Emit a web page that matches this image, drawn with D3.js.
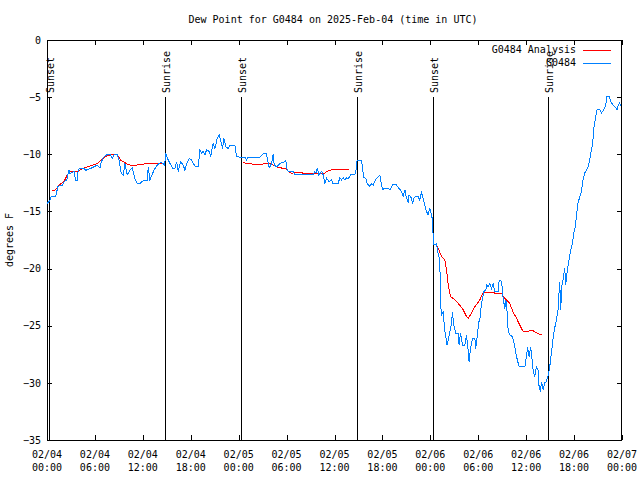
<!DOCTYPE html>
<html><head><meta charset="utf-8">
<script src="https://cdn.jsdelivr.net/npm/d3@7"></script>
<style>
body{margin:0;background:#fff;}
svg{display:block;}
text{font-family:"DejaVu Sans Mono",monospace;font-size:10px;fill:#000;}
</style></head>
<body><svg id="c" width="640" height="480"></svg>
<script>
// ---- data (hours since 2025-02-04 00:00 UTC) ----
const title = "Dew Point for G0484 on 2025-Feb-04 (time in UTC)";
const yLabel = "degrees F";
const seriesNames = ["G0484 Analysis", "G0484"];
const yTicks = [0, -5, -10, -15, -20, -25, -30, -35];
const obsHours = [0.0,0.3,0.54,1.09,1.38,1.92,2.13,2.47,2.75,2.88,3.38,3.59,3.79,3.92,4.54,4.84,5.26,5.88,6.3,6.63,6.72,7.05,7.55,7.97,8.17,8.39,8.8,9.01,9.3,9.55,9.76,10.05,10.39,10.68,10.98,11.3,11.64,12.14,12.55,12.68,12.89,13.39,13.8,14.23,14.56,14.73,14.86,14.98,15.39,15.73,16.02,16.23,16.43,16.73,17.06,17.27,17.48,17.81,18.11,18.31,18.65,18.94,19.15,19.36,19.56,19.77,19.99,20.31,20.49,20.81,21.03,21.31,21.56,21.74,21.99,22.15,22.4,22.69,22.9,23.53,23.74,24.15,24.78,24.99,25.19,26.66,27.07,27.5,27.57,27.82,28.12,28.32,28.45,28.75,29.16,29.79,29.91,30.0,30.2,30.83,31.04,33.33,33.54,33.67,33.83,34.04,34.38,34.58,34.79,35.0,35.33,35.63,35.76,36.46,36.67,36.88,37.08,37.3,37.51,37.71,38.01,38.55,38.67,38.84,39.39,39.51,39.67,39.92,40.09,40.34,40.64,40.84,41.18,41.46,41.68,41.8,42.02,42.3,42.72,42.93,43.34,43.68,43.97,44.39,44.59,44.81,45.02,45.22,45.34,45.64,45.77,45.93,46.18,46.47,46.68,46.89,47.1,47.31,47.52,47.72,47.93,48.15,48.27,48.35,48.47,48.77,48.97,49.19,49.27,49.4,49.6,49.81,50.1,50.35,50.65,50.77,50.94,51.19,51.48,51.6,51.78,52.03,52.32,52.53,52.73,52.85,53.03,53.28,53.57,53.69,53.86,54.07,54.2,54.41,54.7,54.95,55.04,55.24,55.45,55.66,55.86,56.07,56.49,56.62,56.83,56.99,57.12,57.33,57.46,57.62,57.75,57.96,58.29,58.58,58.79,59.12,59.83,60.04,60.17,60.37,60.55,60.71,60.87,61.08,61.29,61.49,61.62,61.79,61.92,62.12,62.33,62.54,62.67,62.79,62.95,63.16,63.36,63.57,63.79,63.99,64.11,64.2,64.33,64.45,64.62,64.83,64.95,65.11,65.36,65.54,65.79,65.95,66.16,66.29,66.49,66.71,66.92,67.12,67.33,67.55,67.75,67.96,68.09,68.25,68.38,68.5,68.71,68.88,69.22,69.43,69.71,69.96,70.13,70.38,70.59,70.88,71.09,71.38,71.55,71.71,71.84];
const obsValues = [-14.3,-14.1,-13.7,-13.65,-12.8,-12.7,-12.4,-12.25,-11.4,-11.7,-11.5,-12.25,-12.25,-11.3,-11.2,-11.4,-11.3,-11.1,-10.95,-11.2,-10.8,-10.3,-10.0,-10.05,-10.35,-10.05,-10.05,-10.5,-11.65,-11.8,-10.8,-11.8,-11.4,-11.2,-12.1,-12.55,-12.55,-12.25,-12.25,-11.1,-12.25,-11.4,-10.95,-10.7,-10.8,-10.95,-9.9,-10.2,-10.8,-11.2,-11.2,-10.65,-11.5,-10.65,-10.95,-11.4,-10.8,-10.35,-10.5,-10.8,-11.1,-11.1,-9.6,-9.9,-9.75,-10.05,-9.6,-9.75,-10.2,-9.05,-9.5,-8.6,-8.3,-8.75,-9.5,-8.6,-9.35,-9.5,-9.2,-9.2,-10.2,-10.25,-10.25,-10.5,-10.25,-10.25,-9.95,-9.95,-10.35,-11.2,-10.8,-10.0,-10.95,-11.1,-10.8,-10.65,-10.5,-11.2,-11.5,-11.5,-11.75,-11.75,-11.5,-11.65,-11.2,-11.8,-11.5,-11.8,-12.55,-12.1,-12.4,-12.2,-12.55,-12.55,-12.05,-12.25,-12.05,-12.25,-12.05,-12.15,-11.8,-11.8,-11.5,-10.5,-10.5,-11.3,-12.0,-12.1,-12.55,-12.8,-12.6,-12.7,-12.2,-12.0,-11.85,-12.3,-13.1,-12.95,-12.95,-13.1,-12.6,-12.6,-12.9,-13.25,-13.7,-13.1,-13.85,-14.15,-13.55,-13.85,-14.3,-13.85,-13.65,-13.7,-14.0,-13.35,-13.85,-14.45,-15.0,-15.3,-14.75,-15.3,-15.75,-17.2,-17.95,-17.8,-18.65,-19.25,-23.05,-24.05,-23.8,-25.4,-26.7,-25.85,-24.8,-23.8,-25.0,-25.65,-25.65,-26.7,-25.65,-26.7,-26.7,-25.85,-27.1,-28.15,-27.0,-26.1,-26.1,-27.0,-25.95,-24.65,-24.5,-23.05,-22.0,-21.9,-21.45,-21.6,-21.3,-21.75,-21.3,-22.0,-22.0,-21.05,-21.0,-21.6,-22.6,-23.5,-22.75,-23.8,-25.5,-25.8,-25.95,-26.85,-27.7,-28.6,-28.6,-27.7,-26.85,-27.7,-26.85,-27.7,-28.9,-29.45,-28.6,-28.9,-30.35,-30.75,-29.9,-30.6,-30.0,-29.9,-29.45,-29.3,-28.6,-27.4,-26.2,-25.2,-24.5,-23.6,-22.15,-21.15,-23.6,-21.6,-21.0,-19.95,-21.4,-20.4,-19.25,-18.5,-17.8,-16.9,-16.3,-15.45,-14.3,-13.7,-13.25,-12.25,-11.65,-11.4,-11.1,-10.5,-9.9,-9.35,-8.6,-7.6,-6.7,-6.1,-6.1,-6.4,-6.1,-5.7,-4.9,-4.9,-5.4,-5.7,-5.8,-6.1,-5.7,-5.5,-5.8];
// analysis series; null marks a gap
const anaHours = [0.66,1.09,1.5,2.13,2.54,2.97,3.79,4.63,5.47,6.3,6.92,7.55,8.39,8.8,9.22,10.05,10.68,11.1,12.14,12.55,14.35,19.0,24.5,25.0,25.62,27.07,27.5,28.12,28.75,29.37,29.79,30.2,30.62,31.16,31.88,32.17,33.13,33.75,34.79,35.0,35.42,36.04,37.83,43.0,48.56,48.97,49.4,49.81,50.03,50.22,50.52,50.85,51.28,51.69,52.1,52.53,52.73,53.15,53.57,54.2,54.61,55.24,56.29,56.91,57.12,57.54,57.95,58.36,58.79,59.2,59.61,60.04,60.45,60.87,61.29,61.7,61.92];
const anaValues = [-13.2,-13.1,-12.7,-12.4,-11.8,-11.5,-11.5,-11.2,-11.0,-10.8,-10.45,-10.1,-10.0,-10.05,-10.5,-10.85,-11.0,-10.95,-10.85,-10.8,-10.8,null,-10.7,-10.8,-10.85,-10.85,-10.8,-10.85,-11.1,-11.2,-11.2,-11.5,-11.65,-11.6,-11.6,-11.7,-11.7,-11.65,-11.65,-11.5,-11.4,-11.3,-11.3,null,-17.8,-18.2,-18.95,-19.25,-20.1,-21.3,-22.45,-22.6,-22.9,-23.2,-23.6,-24.2,-24.35,-23.9,-23.35,-22.75,-22.1,-22.1,-22.15,-22.15,-22.45,-22.75,-23.05,-23.8,-24.35,-24.95,-25.5,-25.5,-25.45,-25.45,-25.6,-25.75,-25.75];
const sunLabels = ["Sunset","Sunrise","Sunset","Sunrise","Sunset","Sunrise"];
const sunTimes = ["2025-02-04T00:15Z","2025-02-04T14:50Z","2025-02-05T00:18Z","2025-02-05T14:48Z","2025-02-06T00:21Z","2025-02-06T14:47Z"];
const xDomain = ["2025-02-04T00:00Z","2025-02-07T00:00Z"];
const colors = ["#ff0000","#0080ff"];

// ---- drawing ----
const svg = d3.select("#c");
const L=47, R=622, T=40, B=440;
const t0 = new Date(xDomain[0]).getTime();
const toDate = h => new Date(t0 + h*3600e3);
const x = d3.scaleUtc().domain(xDomain.map(s=>new Date(s))).range([L,R]);
const y = d3.scaleLinear().domain([-35,0]).range([B,T]);

svg.append("rect").attr("width",640).attr("height",480).attr("fill","#fff");

// title
svg.append("text").attr("x",333).attr("y",20).attr("text-anchor","middle")
  .attr("dominant-baseline","middle").text(title);
// y label
svg.append("text").attr("transform","translate(10,240) rotate(-90)")
  .attr("text-anchor","middle").attr("dominant-baseline","middle").text(yLabel);

const major = d3.utcHour.every(6), minor = d3.utcHour.every(2);
// bottom axis
const gb = svg.append("g").attr("transform",`translate(0,${B})`);
gb.call(d3.axisBottom(x).ticks(minor).tickSize(-3).tickFormat(""));
gb.call(d3.axisBottom(x).ticks(major).tickSize(-5).tickFormat(""));
gb.selectAll(".domain").remove();
// top axis
const gt = svg.append("g").attr("transform",`translate(0,${T})`);
gt.call(d3.axisTop(x).ticks(minor).tickSize(-3).tickFormat(""));
gt.call(d3.axisTop(x).ticks(major).tickSize(-5).tickFormat(""));
gt.selectAll(".domain").remove();
// left axis
const gl = svg.append("g").attr("transform",`translate(${L},0)`);
gl.call(d3.axisLeft(y).tickValues(yTicks).tickSize(-5).tickPadding(6).tickFormat(d3.format("d")));
gl.selectAll(".domain").remove();
gl.selectAll("text").style("font-family","'DejaVu Sans Mono',monospace").style("font-size","10px");
// right axis
const gr = svg.append("g").attr("transform",`translate(${R},0)`);
gr.call(d3.axisRight(y).tickValues(yTicks).tickSize(-5).tickFormat(""));
gr.selectAll(".domain").remove();
svg.selectAll(".tick line").attr("stroke","#000").attr("shape-rendering","crispEdges");

// x tick labels (two lines)
const fmtD = d3.utcFormat("%m/%d"), fmtT = d3.utcFormat("%H:%M");
const xl = svg.append("g");
x.ticks(major).forEach(d=>{
  const t = xl.append("text").attr("x",x(d)).attr("text-anchor","middle");
  t.append("tspan").attr("x",x(d)).attr("y",458).text(fmtD(d));
  t.append("tspan").attr("x",x(d)).attr("y",471).text(fmtT(d));
});

// frame
svg.append("rect").attr("x",L+0.5).attr("y",T+0.5).attr("width",R-L-1).attr("height",B-T)
  .attr("fill","none").attr("stroke","#000").attr("shape-rendering","crispEdges");

// sunrise / sunset
sunTimes.forEach((s,i)=>{
  const xx = Math.round(x(new Date(s)))+0.5;
  svg.append("line").attr("x1",xx).attr("x2",xx).attr("y1",97).attr("y2",B)
    .attr("stroke","#000").attr("stroke-width",1).attr("shape-rendering","crispEdges");
  svg.append("text").attr("transform",`translate(${xx+4},93) rotate(-90)`)
    .attr("text-anchor","start").text(sunLabels[i]);
});

// lines
const line = d3.line().defined(d=>d[1]!==null).x(d=>x(toDate(d[0]))).y(d=>y(d[1]));
svg.append("path").datum(anaHours.map((h,i)=>[h,anaValues[i]]))
  .attr("d",line).attr("fill","none").attr("stroke",colors[0]).attr("stroke-width",1)
  .attr("shape-rendering","crispEdges");
svg.append("path").datum(obsHours.map((h,i)=>[h,obsValues[i]]))
  .attr("d",line).attr("fill","none").attr("stroke",colors[1]).attr("stroke-width",1)
  .attr("shape-rendering","crispEdges");

// legend
seriesNames.forEach((n,i)=>{
  const yy = 50 + i*13;
  svg.append("text").attr("x",576).attr("y",yy).attr("text-anchor","end")
    .attr("dominant-baseline","middle").text(n);
  svg.append("line").attr("x1",583).attr("x2",611).attr("y1",yy+0.5).attr("y2",yy+0.5)
    .attr("stroke",colors[i]).attr("stroke-width",1).attr("shape-rendering","crispEdges");
});
</script></body></html>
